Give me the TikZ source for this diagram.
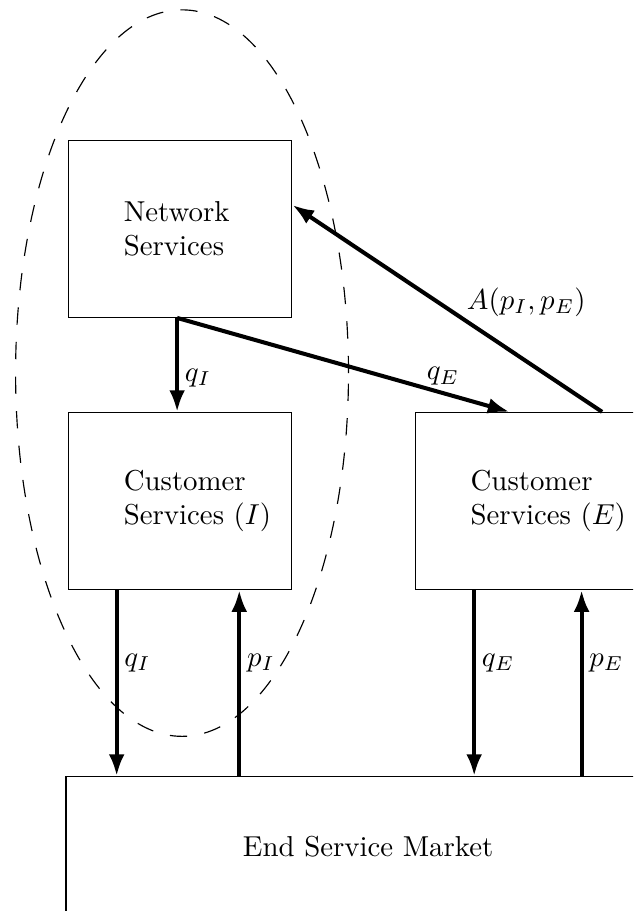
\documentclass[tikz,border=0pt]{standalone}
\usetikzlibrary{shapes.geometric, arrows.meta}
\tikzstyle{arrow} = [line width=1.4pt,-{Latex[length=7.5pt,width=5.5pt]}]
\tikzstyle{box} = [rectangle, minimum width=2.72cm, minimum height=2.16cm, text width=1.38cm, inner xsep=0pt, align=left, draw=black]
\tikzstyle{market} = [rectangle, minimum width=7.37cm, minimum height=1.7cm, text centered, draw=black]
\tikzstyle{group} = [dash pattern=on 6pt off 6pt]

\begin{document}
\begin{tikzpicture}[node distance=3.32cm]

\useasboundingbox (0,0) rectangle (7.72,-11.11);
\clip (0,0) rectangle (7.72,-11.11);

\node (net) [box] at (2.2,-2.79) {\mbox{Network}\\\mbox{Services}};
\node (csi) [box, below of=net] {\mbox{Customer}\\\mbox{Services ($I$)}};
\node (cse) [box, right of=csi, xshift=0.91cm] {\mbox{Customer}\\\mbox{Services ($E$)}};
\node (mkt) [market, below of=csi, xshift=2.29cm, yshift=-0.89cm] {End Service Market};

\draw [group] (2.22,-4.55) ellipse (2.03 and 4.43);

\node[coordinate] (net_out) at ([xshift=-0.04cm]net.south) {};
\node[coordinate] (net_in)  at ([yshift=0.29cm]net.east) {};
\node[coordinate] (cse_in)  at ([xshift=1.15cm]cse.north west) {};
\node[coordinate] (cse_out) at ([xshift=2.28cm]cse.north west) {};
\node[coordinate] (qi_out)  at ([xshift=0.59cm]csi.south west) {};
\node[coordinate] (pi_in)   at ([xshift=2.085cm]csi.south west) {};
\node[coordinate] (qe_out)  at ([xshift=0.72cm]cse.south west) {};
\node[coordinate] (pe_in)   at ([xshift=2.03cm]cse.south west) {};

\draw [arrow] (net_out) -- node[right, pos=0.64, inner sep=2pt]{$q_I$} (net_out |- csi.north);
\draw [arrow] (net_out) -- node[above, pos=0.8, inner sep=2pt]{$q_E$} (cse_in);
\draw [arrow] (cse_out) -- node[right=6pt, pos=0.53]{$A(p_I,p_E)$} (net_in);
\draw [arrow] (qi_out) -- node[right, pos=0.39, inner sep=2pt]{$q_I$} (qi_out |- mkt.north);
\draw [arrow] (pi_in |- mkt.north) -- node[right, pos=0.61, inner sep=2pt]{$p_I$} (pi_in);
\draw [arrow] (qe_out) -- node[right, pos=0.39, inner sep=2pt]{$q_E$} (qe_out |- mkt.north);
\draw [arrow] (pe_in |- mkt.north) -- node[right, pos=0.61, inner sep=2pt]{$p_E$} (pe_in);

\end{tikzpicture}
\end{document}
